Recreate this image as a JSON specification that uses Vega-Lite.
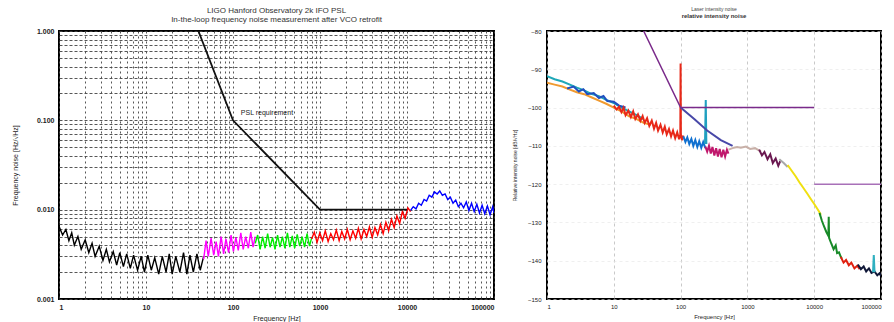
{
  "$schema": "https://vega.github.io/schema/vega-lite/v6.json",
  "background": "white",
  "padding": {"left": 10, "top": 6, "right": 5, "bottom": 2},
  "spacing": 53,
  "bounds": "flush",
  "resolve": {"scale": {"color": "independent", "stroke": "independent"}},
  "config": {
    "font": "Liberation Sans",
    "view": {"stroke": "black", "strokeWidth": 2},
    "axis": {"domain": false, "labelColor": "#222", "titleColor": "#222", "titleFontWeight": "normal", "labelOverlap": false}
  },
  "datasets": {
    "left": [
      {"f":1,"v":0.0065,"s":"k"},{"f":1.1,"v":0.0052,"s":"k"},{"f":1.2,"v":0.006,"s":"k"},{"f":1.3,"v":0.0045,"s":"k"},{"f":1.4,"v":0.0055,"s":"k"},{"f":1.5,"v":0.004,"s":"k"},{"f":1.65,"v":0.005,"s":"k"},{"f":1.8,"v":0.0036,"s":"k"},{"f":2,"v":0.0046,"s":"k"},{"f":2.2,"v":0.0033,"s":"k"},{"f":2.4,"v":0.0042,"s":"k"},{"f":2.6,"v":0.003,"s":"k"},{"f":2.9,"v":0.0039,"s":"k"},{"f":3.2,"v":0.0027,"s":"k"},{"f":3.5,"v":0.0036,"s":"k"},{"f":3.8,"v":0.0026,"s":"k"},{"f":4.2,"v":0.0034,"s":"k"},{"f":4.6,"v":0.0024,"s":"k"},{"f":5,"v":0.0033,"s":"k"},{"f":5.5,"v":0.0023,"s":"k"},{"f":6,"v":0.0032,"s":"k"},{"f":6.6,"v":0.0022,"s":"k"},{"f":7.2,"v":0.0031,"s":"k"},{"f":8,"v":0.0021,"s":"k"},{"f":8.8,"v":0.003,"s":"k"},{"f":9.6,"v":0.002,"s":"k"},{"f":10.5,"v":0.0031,"s":"k"},{"f":11.5,"v":0.0021,"s":"k"},{"f":12.6,"v":0.0029,"s":"k"},{"f":14,"v":0.0019,"s":"k"},{"f":15.4,"v":0.003,"s":"k"},{"f":17,"v":0.002,"s":"k"},{"f":18.5,"v":0.0032,"s":"k"},{"f":20,"v":0.0019,"s":"k"},{"f":22,"v":0.003,"s":"k"},{"f":24.5,"v":0.002,"s":"k"},{"f":27,"v":0.0033,"s":"k"},{"f":29.5,"v":0.0019,"s":"k"},{"f":32,"v":0.0031,"s":"k"},{"f":35,"v":0.002,"s":"k"},{"f":38.5,"v":0.0032,"s":"k"},{"f":42,"v":0.0021,"s":"k"},{"f":46,"v":0.003,"s":"k"},
      {"f":46,"v":0.0028,"s":"m"},{"f":49,"v":0.0045,"s":"m"},{"f":52,"v":0.003,"s":"m"},{"f":56,"v":0.0048,"s":"m"},{"f":60,"v":0.0031,"s":"m"},{"f":64,"v":0.0044,"s":"m"},{"f":68,"v":0.003,"s":"m"},{"f":73,"v":0.005,"s":"m"},{"f":78,"v":0.0032,"s":"m"},{"f":83,"v":0.0047,"s":"m"},{"f":89,"v":0.0033,"s":"m"},{"f":95,"v":0.0052,"s":"m"},{"f":101,"v":0.0034,"s":"m"},{"f":108,"v":0.0049,"s":"m"},{"f":115,"v":0.0035,"s":"m"},{"f":123,"v":0.0055,"s":"m"},{"f":131,"v":0.0036,"s":"m"},{"f":140,"v":0.005,"s":"m"},{"f":150,"v":0.0037,"s":"m"},{"f":160,"v":0.0056,"s":"m"},{"f":170,"v":0.0038,"s":"m"},{"f":180,"v":0.005,"s":"m"},
      {"f":180,"v":0.0042,"s":"g"},{"f":192,"v":0.0052,"s":"g"},{"f":205,"v":0.0036,"s":"g"},{"f":219,"v":0.005,"s":"g"},{"f":234,"v":0.0037,"s":"g"},{"f":250,"v":0.0054,"s":"g"},{"f":267,"v":0.0038,"s":"g"},{"f":285,"v":0.0049,"s":"g"},{"f":304,"v":0.0036,"s":"g"},{"f":325,"v":0.0052,"s":"g"},{"f":347,"v":0.0038,"s":"g"},{"f":370,"v":0.005,"s":"g"},{"f":395,"v":0.0037,"s":"g"},{"f":422,"v":0.0055,"s":"g"},{"f":450,"v":0.0038,"s":"g"},{"f":480,"v":0.0051,"s":"g"},{"f":512,"v":0.0037,"s":"g"},{"f":547,"v":0.0053,"s":"g"},{"f":584,"v":0.0039,"s":"g"},{"f":623,"v":0.005,"s":"g"},{"f":665,"v":0.0038,"s":"g"},{"f":710,"v":0.0054,"s":"g"},{"f":757,"v":0.0039,"s":"g"},{"f":800,"v":0.0048,"s":"g"},
      {"f":800,"v":0.0047,"s":"r"},{"f":860,"v":0.0056,"s":"r"},{"f":925,"v":0.0043,"s":"r"},{"f":995,"v":0.0055,"s":"r"},{"f":1070,"v":0.0045,"s":"r"},{"f":1150,"v":0.0058,"s":"r"},{"f":1240,"v":0.0044,"s":"r"},{"f":1330,"v":0.0054,"s":"r"},{"f":1430,"v":0.0046,"s":"r"},{"f":1540,"v":0.0059,"s":"r"},{"f":1660,"v":0.0045,"s":"r"},{"f":1780,"v":0.0057,"s":"r"},{"f":1920,"v":0.0047,"s":"r"},{"f":2060,"v":0.006,"s":"r"},{"f":2220,"v":0.0046,"s":"r"},{"f":2390,"v":0.0058,"s":"r"},{"f":2570,"v":0.0048,"s":"r"},{"f":2760,"v":0.0062,"s":"r"},{"f":2970,"v":0.0047,"s":"r"},{"f":3200,"v":0.006,"s":"r"},{"f":3440,"v":0.005,"s":"r"},{"f":3700,"v":0.0064,"s":"r"},{"f":3980,"v":0.0049,"s":"r"},{"f":4280,"v":0.0063,"s":"r"},{"f":4600,"v":0.0052,"s":"r"},{"f":4950,"v":0.0068,"s":"r"},{"f":5320,"v":0.0054,"s":"r"},{"f":5720,"v":0.0072,"s":"r"},{"f":6150,"v":0.0058,"s":"r"},{"f":6620,"v":0.0078,"s":"r"},{"f":7120,"v":0.0063,"s":"r"},{"f":7650,"v":0.0085,"s":"r"},{"f":8230,"v":0.007,"s":"r"},{"f":8850,"v":0.0095,"s":"r"},{"f":9520,"v":0.008,"s":"r"},{"f":10240,"v":0.0105,"s":"r"},{"f":11000,"v":0.0095,"s":"r"},
      {"f":11000,"v":0.0098,"s":"b"},{"f":11800,"v":0.0108,"s":"b"},{"f":12700,"v":0.0102,"s":"b"},{"f":13600,"v":0.0118,"s":"b"},{"f":14600,"v":0.0112,"s":"b"},{"f":15700,"v":0.013,"s":"b"},{"f":16800,"v":0.0125,"s":"b"},{"f":18000,"v":0.0145,"s":"b"},{"f":19300,"v":0.0138,"s":"b"},{"f":20700,"v":0.0158,"s":"b"},{"f":22200,"v":0.015,"s":"b"},{"f":23800,"v":0.0162,"s":"b"},{"f":25500,"v":0.0145,"s":"b"},{"f":27400,"v":0.015,"s":"b"},{"f":29400,"v":0.013,"s":"b"},{"f":31500,"v":0.0138,"s":"b"},{"f":33800,"v":0.0118,"s":"b"},{"f":36300,"v":0.0128,"s":"b"},{"f":38900,"v":0.0108,"s":"b"},{"f":41700,"v":0.0118,"s":"b"},{"f":44700,"v":0.0105,"s":"b"},{"f":48000,"v":0.0122,"s":"b"},{"f":51500,"v":0.0098,"s":"b"},{"f":55200,"v":0.0118,"s":"b"},{"f":59200,"v":0.0095,"s":"b"},{"f":63500,"v":0.0115,"s":"b"},{"f":68100,"v":0.0092,"s":"b"},{"f":73000,"v":0.0112,"s":"b"},{"f":78300,"v":0.009,"s":"b"},{"f":84000,"v":0.011,"s":"b"},{"f":90100,"v":0.0088,"s":"b"},{"f":96600,"v":0.0108,"s":"b"},{"f":100000,"v":0.0092,"s":"b"}
    ],
    "leftreq": [
      {"f":40,"v":1.0},{"f":100,"v":0.1},{"f":1000,"v":0.01},{"f":10000,"v":0.01}
    ],
    "leftlabel": [
      {"f":123,"v":0.12,"t":"PSL requirement"}
    ],
    "right": [
      {"f":1,"v":-91.8,"s":"teal"},{"f":1.3,"v":-92.6,"s":"teal"},{"f":1.7,"v":-93.2,"s":"teal"},{"f":2.2,"v":-94,"s":"teal"},{"f":2.8,"v":-94.8,"s":"teal"},{"f":3.6,"v":-95.5,"s":"teal"},{"f":4.6,"v":-96.4,"s":"teal"},{"f":6,"v":-97,"s":"teal"},{"f":7.7,"v":-98,"s":"teal"},{"f":10,"v":-98.8,"s":"teal"},{"f":13,"v":-100,"s":"teal"},{"f":17,"v":-101,"s":"teal"},{"f":22,"v":-102,"s":"teal"},{"f":28,"v":-103,"s":"teal"},
      {"f":1,"v":-93.5,"s":"orange"},{"f":1.3,"v":-94,"s":"orange"},{"f":1.7,"v":-94.5,"s":"orange"},{"f":2.2,"v":-95.3,"s":"orange"},{"f":2.8,"v":-96,"s":"orange"},{"f":3.6,"v":-96.5,"s":"orange"},{"f":4.6,"v":-97.3,"s":"orange"},{"f":6,"v":-98.2,"s":"orange"},{"f":7.7,"v":-99,"s":"orange"},{"f":10,"v":-100,"s":"orange"},{"f":13,"v":-101,"s":"orange"},{"f":17,"v":-102.3,"s":"orange"},{"f":22,"v":-103,"s":"orange"},{"f":28,"v":-104,"s":"orange"},{"f":36,"v":-104.5,"s":"orange"},
      {"f":2,"v":-95,"s":"bluelow"},{"f":2.5,"v":-94.5,"s":"bluelow"},{"f":3,"v":-95.8,"s":"bluelow"},{"f":3.5,"v":-95.2,"s":"bluelow"},{"f":4,"v":-96.5,"s":"bluelow"},{"f":5,"v":-96.2,"s":"bluelow"},{"f":6,"v":-97.5,"s":"bluelow"},{"f":7,"v":-97,"s":"bluelow"},{"f":8,"v":-98.3,"s":"bluelow"},{"f":10,"v":-98.5,"s":"bluelow"},{"f":12,"v":-99.5,"s":"bluelow"},{"f":15,"v":-100,"s":"bluelow"},
      {"f":10,"v":-99.5,"s":"red"},{"f":11,"v":-100.5,"s":"red"},{"f":12,"v":-99.8,"s":"red"},{"f":13,"v":-101.2,"s":"red"},{"f":14,"v":-100,"s":"red"},{"f":15,"v":-102,"s":"red"},{"f":16.5,"v":-100.8,"s":"red"},{"f":18,"v":-102.5,"s":"red"},{"f":19.5,"v":-101,"s":"red"},{"f":21,"v":-103,"s":"red"},{"f":23,"v":-101.8,"s":"red"},{"f":25,"v":-103.5,"s":"red"},{"f":27,"v":-102.2,"s":"red"},{"f":29,"v":-104,"s":"red"},{"f":31.5,"v":-102.8,"s":"red"},{"f":34,"v":-104.8,"s":"red"},{"f":37,"v":-103.4,"s":"red"},{"f":40,"v":-105.5,"s":"red"},{"f":43,"v":-104,"s":"red"},{"f":46,"v":-106,"s":"red"},{"f":50,"v":-104.5,"s":"red"},{"f":54,"v":-106.5,"s":"red"},{"f":58,"v":-105,"s":"red"},{"f":62,"v":-107,"s":"red"},{"f":67,"v":-105.6,"s":"red"},{"f":72,"v":-107.5,"s":"red"},{"f":77,"v":-106,"s":"red"},{"f":83,"v":-108,"s":"red"},{"f":89,"v":-106.5,"s":"red"},{"f":95,"v":-108.3,"s":"red"},{"f":99,"v":-107,"s":"red"},{"f":100,"v":-88.5,"s":"red"},{"f":101,"v":-107,"s":"red"},{"f":105,"v":-108.5,"s":"red"},{"f":110,"v":-107.3,"s":"red"},
      {"f":110,"v":-107.5,"s":"blue"},{"f":118,"v":-109,"s":"blue"},{"f":126,"v":-107.8,"s":"blue"},{"f":135,"v":-109.5,"s":"blue"},{"f":145,"v":-108.2,"s":"blue"},{"f":155,"v":-110,"s":"blue"},{"f":166,"v":-108.5,"s":"blue"},{"f":178,"v":-110.3,"s":"blue"},{"f":190,"v":-108.8,"s":"blue"},{"f":204,"v":-110.5,"s":"blue"},{"f":218,"v":-109,"s":"blue"},{"f":235,"v":-110.6,"s":"blue"},
      {"f":232,"v":-109.5,"s":"tealspike"},{"f":238,"v":-98,"s":"tealspike"},{"f":243,"v":-109.5,"s":"tealspike"},
      {"f":235,"v":-110.2,"s":"magenta"},{"f":250,"v":-111.5,"s":"magenta"},{"f":266,"v":-110,"s":"magenta"},{"f":283,"v":-112,"s":"magenta"},{"f":300,"v":-110.3,"s":"magenta"},{"f":320,"v":-112.5,"s":"magenta"},{"f":340,"v":-110.6,"s":"magenta"},{"f":362,"v":-112.8,"s":"magenta"},{"f":385,"v":-110.8,"s":"magenta"},{"f":410,"v":-113,"s":"magenta"},{"f":436,"v":-111,"s":"magenta"},{"f":464,"v":-112.8,"s":"magenta"},{"f":494,"v":-111,"s":"magenta"},{"f":520,"v":-112,"s":"magenta"},
      {"f":520,"v":-111,"s":"grey"},{"f":600,"v":-110.6,"s":"grey"},{"f":700,"v":-110.3,"s":"grey"},{"f":800,"v":-110.5,"s":"grey"},{"f":950,"v":-110.2,"s":"grey"},{"f":1100,"v":-110.8,"s":"grey"},{"f":1300,"v":-110.6,"s":"grey"},{"f":1600,"v":-111.5,"s":"grey"},
      {"f":1500,"v":-111,"s":"dpurple"},{"f":1650,"v":-112.5,"s":"dpurple"},{"f":1800,"v":-111.6,"s":"dpurple"},{"f":2000,"v":-113.5,"s":"dpurple"},{"f":2200,"v":-112.2,"s":"dpurple"},{"f":2400,"v":-114.5,"s":"dpurple"},{"f":2650,"v":-113.3,"s":"dpurple"},{"f":2900,"v":-115.2,"s":"dpurple"},{"f":3100,"v":-114,"s":"dpurple"},
      {"f":3000,"v":-113.5,"s":"grey2"},{"f":3500,"v":-114.5,"s":"grey2"},{"f":4000,"v":-115.5,"s":"grey2"},
      {"f":4000,"v":-115,"s":"yellow"},{"f":4600,"v":-116.5,"s":"yellow"},{"f":5300,"v":-118,"s":"yellow"},{"f":6000,"v":-119.5,"s":"yellow"},{"f":6900,"v":-121,"s":"yellow"},{"f":7900,"v":-122.5,"s":"yellow"},{"f":9000,"v":-124,"s":"yellow"},{"f":10300,"v":-125.5,"s":"yellow"},{"f":11500,"v":-126.8,"s":"yellow"},{"f":12600,"v":-128,"s":"yellow"},
      {"f":12000,"v":-127.5,"s":"green"},{"f":13000,"v":-129.5,"s":"green"},{"f":14000,"v":-131,"s":"green"},{"f":15200,"v":-132.5,"s":"green"},{"f":16300,"v":-133.5,"s":"green"},{"f":16500,"v":-128.5,"s":"green"},{"f":16700,"v":-134,"s":"green"},{"f":18000,"v":-135.5,"s":"green"},{"f":19500,"v":-137,"s":"green"},{"f":21000,"v":-136,"s":"green"},{"f":22000,"v":-138,"s":"green"},{"f":23500,"v":-137.8,"s":"green"},{"f":25000,"v":-139,"s":"green"},{"f":26000,"v":-139.5,"s":"green"},
      {"f":25000,"v":-139,"s":"red2"},{"f":27500,"v":-140.5,"s":"red2"},{"f":30000,"v":-139.8,"s":"red2"},{"f":33000,"v":-141.2,"s":"red2"},{"f":36000,"v":-140.5,"s":"red2"},{"f":40000,"v":-142,"s":"red2"},{"f":44000,"v":-141.3,"s":"red2"},{"f":48000,"v":-142.2,"s":"red2"},
      {"f":45000,"v":-141,"s":"navy"},{"f":50000,"v":-142.2,"s":"navy"},{"f":55000,"v":-141.5,"s":"navy"},{"f":60000,"v":-142.8,"s":"navy"},{"f":66000,"v":-142,"s":"navy"},{"f":72000,"v":-143.2,"s":"navy"},{"f":80000,"v":-142.8,"s":"navy"},{"f":88000,"v":-143.8,"s":"navy"},{"f":95000,"v":-143.3,"s":"navy"},{"f":100000,"v":-144,"s":"navy"},
      {"f":76000,"v":-143,"s":"tealspike2"},{"f":78000,"v":-138.5,"s":"tealspike2"},{"f":80000,"v":-143,"s":"tealspike2"},
      {"f":100,"v":-100,"s":"req2"},{"f":160,"v":-103,"s":"req2"},{"f":250,"v":-106,"s":"req2"},{"f":400,"v":-108.5,"s":"req2"},{"f":600,"v":-110,"s":"req2"}
    ],
    "rightreq": [
      {"f":28,"v":-80,"s":"A"},{"f":100,"v":-100,"s":"A"},{"f":10000,"v":-100,"s":"A"},
      {"f":10000,"v":-120,"s":"B"},{"f":100000,"v":-120,"s":"B"}
    ]
  },
  "hconcat": [
    {
      "width": 435,
      "height": 268,
      "title": {
        "text": "LIGO Hanford Observatory 2k IFO PSL",
        "subtitle": "In-the-loop frequency noise measurement after VCO retrofit",
        "fontSize": 8, "fontWeight": "normal", "subtitleFontSize": 8, "subtitlePadding": 1,
        "color": "#333", "subtitleColor": "#333", "offset": 3
      },
      "layer": [
        {
          "data": {"name": "left"},
          "mark": {"type": "line", "strokeWidth": 1.4, "clip": true},
          "encoding": {
            "x": {"field": "f", "type": "quantitative", "scale": {"type": "log", "domain": [1, 100000], "nice": false},
              "axis": {"title": "Frequency [Hz]", "titleFontSize": 7, "titlePadding": 4, "labelFontSize": 7, "labelFontWeight": "bold", "tickSize": 0, "labelPadding": 4, "labelOverlap": false, "tickCount": 200,
                "values": [1,2,3,4,5,6,7,8,9,10,20,30,40,50,60,70,80,90,100,200,300,400,500,600,700,800,900,1000,2000,3000,4000,5000,6000,7000,8000,9000,10000,20000,30000,40000,50000,60000,70000,80000,90000,100000],
                "labelExpr": "abs(log(datum.value)/LN10 - round(log(datum.value)/LN10)) < 0.001 ? format(datum.value, 'd') : ''",
                "grid": true, "gridColor": "#444", "gridDash": [2, 3], "gridWidth": 0.9, "gridOpacity": 1}},
            "y": {"field": "v", "type": "quantitative", "scale": {"type": "log", "domain": [0.001, 1], "nice": false},
              "axis": {"title": "Frequency noise [Hz/√Hz]", "titleFontSize": 7, "titlePadding": 18, "labelFontSize": 7, "labelFontWeight": "bold", "tickSize": 0, "labelPadding": 5, "labelOverlap": false, "tickCount": 200,
                "values": [0.001,0.002,0.003,0.004,0.005,0.006,0.007,0.008,0.009,0.01,0.02,0.03,0.04,0.05,0.06,0.07,0.08,0.09,0.1,0.2,0.3,0.4,0.5,0.6,0.7,0.8,0.9,1],
                "labelExpr": "abs(log(datum.value)/LN10 - round(log(datum.value)/LN10)) < 0.001 ? format(datum.value, '.3f') : ''",
                "grid": true, "gridColor": "#444", "gridDash": [3, 2], "gridWidth": 0.9, "gridOpacity": 1}},
            "color": {"field": "s", "type": "nominal", "legend": null,
              "scale": {"domain": ["k", "m", "g", "r", "b"], "range": ["#000000", "#ff00ff", "#00ee00", "#ff0000", "#0000ff"]}}
          }
        },
        {
          "data": {"name": "leftreq"},
          "mark": {"type": "line", "color": "#111", "strokeWidth": 1.8, "clip": true},
          "encoding": {
            "x": {"field": "f", "type": "quantitative"},
            "y": {"field": "v", "type": "quantitative"}
          }
        },
        {
          "data": {"name": "leftlabel"},
          "mark": {"type": "text", "align": "left", "baseline": "middle", "fontSize": 7, "color": "#222"},
          "encoding": {
            "x": {"field": "f", "type": "quantitative"},
            "y": {"field": "v", "type": "quantitative"},
            "text": {"field": "t"}
          }
        }
      ]
    },
    {
      "width": 334,
      "height": 268,
      "title": {
        "text": "Laser intensity noise",
        "subtitle": "relative intensity noise",
        "fontSize": 5, "fontWeight": "normal", "subtitleFontSize": 6, "subtitleFontWeight": "bold", "subtitlePadding": 1,
        "color": "#444", "subtitleColor": "#333", "offset": 9
      },
      "layer": [
        {
          "data": {"name": "right"},
          "mark": {"type": "line", "strokeWidth": 2, "clip": true},
          "encoding": {
            "x": {"field": "f", "type": "quantitative", "scale": {"type": "log", "domain": [1, 100000], "nice": false},
              "axis": {"title": "Frequency [Hz]", "titleFontSize": 6, "titlePadding": 4, "labelFontSize": 6, "tickSize": 0, "labelPadding": 4, "labelOverlap": false, "tickCount": 50,
                "values": [1, 10, 100, 1000, 10000, 100000], "format": "d",
                "grid": true, "gridColor": "#bbb", "gridDash": [3, 3], "gridWidth": 0.8}},
            "y": {"field": "v", "type": "quantitative", "scale": {"domain": [-150, -80], "nice": false},
              "axis": {"title": "Relative intensity noise [dB/√Hz]", "titleFontSize": 5, "titlePadding": 10, "labelFontSize": 6, "tickSize": 0, "labelPadding": 6, "labelOverlap": false, "tickCount": 50,
                "values": [-150, -140, -130, -120, -110, -100, -90, -80],
                "grid": true, "gridColor": "#e4e4e4", "gridDash": [3, 3], "gridWidth": 0.6}},
            "color": {"field": "s", "type": "nominal", "legend": null,
              "scale": {"domain": ["teal", "orange", "bluelow", "red", "blue", "tealspike", "magenta", "grey", "dpurple", "grey2", "yellow", "green", "red2", "navy", "tealspike2", "req2"],
                "range": ["#20a8b8", "#f09a30", "#2050c0", "#e82818", "#1070d0", "#20a0c0", "#c0186c", "#c8b0a8", "#6a1850", "#a8a8a8", "#f0e010", "#188a28", "#e02010", "#101838", "#30b0c0", "#4848a8"]}}
          }
        },
        {
          "data": {"name": "rightreq"},
          "mark": {"type": "line", "strokeWidth": 1.5, "clip": true},
          "encoding": {
            "x": {"field": "f", "type": "quantitative"},
            "y": {"field": "v", "type": "quantitative"},
            "stroke": {"field": "s", "type": "nominal", "legend": null, "scale": {"domain": ["A", "B"], "range": ["#7a2a8a", "#a870b8"]}}
          }
        }
      ]
    }
  ]
}
